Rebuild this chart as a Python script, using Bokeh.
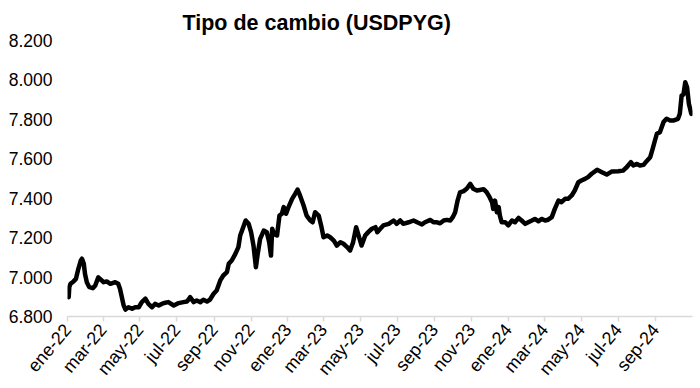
import math
import pandas as pd
from bokeh.plotting import figure
from bokeh.models import Range1d, FixedTicker
from bokeh.embed import file_html
from bokeh.resources import INLINE

title_text = "Tipo de cambio (USDPYG)"

dates = [
    "2022-01-03", "2022-01-04", "2022-01-06", "2022-01-11", "2022-01-15", "2022-01-19",
    "2022-01-23", "2022-01-25", "2022-01-28", "2022-01-30", "2022-02-02", "2022-02-06",
    "2022-02-12", "2022-02-16", "2022-02-21", "2022-02-24", "2022-03-02", "2022-03-07",
    "2022-03-13", "2022-03-21", "2022-03-26", "2022-03-29", "2022-04-01", "2022-04-04",
    "2022-04-07", "2022-04-12", "2022-04-18", "2022-04-23", "2022-04-29", "2022-05-04",
    "2022-05-10", "2022-05-15", "2022-05-21", "2022-05-26", "2022-06-01", "2022-06-06",
    "2022-06-12", "2022-06-17", "2022-06-26", "2022-07-04", "2022-07-12", "2022-07-18",
    "2022-07-23", "2022-07-29", "2022-08-03", "2022-08-09", "2022-08-14", "2022-08-20",
    "2022-08-25", "2022-08-31", "2022-09-05", "2022-09-11", "2022-09-16", "2022-09-22",
    "2022-09-25", "2022-09-30", "2022-10-06", "2022-10-11", "2022-10-14", "2022-10-19",
    "2022-10-23", "2022-10-28", "2022-11-01", "2022-11-05", "2022-11-09", "2022-11-12",
    "2022-11-16", "2022-11-22", "2022-11-27", "2022-12-01", "2022-12-04", "2022-12-06",
    "2022-12-09", "2022-12-14", "2022-12-18", "2022-12-22", "2022-12-25", "2022-12-29",
    "2023-01-02", "2023-01-08", "2023-01-13", "2023-01-17", "2023-01-21", "2023-01-27",
    "2023-02-01", "2023-02-07", "2023-02-11", "2023-02-15", "2023-02-21", "2023-02-25",
    "2023-03-01", "2023-03-07", "2023-03-12", "2023-03-18", "2023-03-23", "2023-03-29",
    "2023-04-03", "2023-04-09", "2023-04-14", "2023-04-19", "2023-04-24", "2023-04-28",
    "2023-05-03", "2023-05-09", "2023-05-14", "2023-05-20", "2023-05-26", "2023-05-29",
    "2023-06-03", "2023-06-08", "2023-06-17", "2023-06-25", "2023-06-30", "2023-07-06",
    "2023-07-11", "2023-07-20", "2023-07-28", "2023-08-03", "2023-08-11", "2023-08-16",
    "2023-08-25", "2023-08-30", "2023-09-05", "2023-09-10", "2023-09-16", "2023-09-21",
    "2023-09-27", "2023-10-01", "2023-10-05", "2023-10-09", "2023-10-13", "2023-10-19",
    "2023-10-24", "2023-10-30", "2023-11-04", "2023-11-10", "2023-11-15", "2023-11-21",
    "2023-11-26", "2023-12-01", "2023-12-05", "2023-12-07", "2023-12-10", "2023-12-13",
    "2023-12-16", "2023-12-18", "2023-12-21", "2023-12-27", "2024-01-01", "2024-01-07",
    "2024-01-12", "2024-01-18", "2024-01-23", "2024-01-29", "2024-02-03", "2024-02-09",
    "2024-02-14", "2024-02-20", "2024-02-25", "2024-03-02", "2024-03-07", "2024-03-13",
    "2024-03-18", "2024-03-24", "2024-03-29", "2024-04-04", "2024-04-09", "2024-04-15",
    "2024-04-20", "2024-04-26", "2024-05-01", "2024-05-07", "2024-05-12", "2024-05-18",
    "2024-05-27", "2024-06-04", "2024-06-12", "2024-06-20", "2024-07-01", "2024-07-09",
    "2024-07-15", "2024-07-22", "2024-07-26", "2024-08-01", "2024-08-06", "2024-08-12",
    "2024-08-17", "2024-08-23", "2024-08-27", "2024-08-30", "2024-09-03", "2024-09-08",
    "2024-09-14", "2024-09-19", "2024-09-25", "2024-09-30", "2024-10-08", "2024-10-11",
    "2024-10-14", "2024-10-17", "2024-10-20", "2024-10-23", "2024-10-26", "2024-10-30",
]

usdpyg = [
    6898, 6950, 6966, 6978, 6991, 7042,
    7084, 7093, 7067, 7016, 6974, 6949,
    6944, 6957, 6999, 6990, 6974, 6978,
    6966, 6974, 6966, 6940, 6898, 6856,
    6835, 6847, 6839, 6847, 6847, 6873,
    6890, 6864, 6847, 6864, 6856, 6864,
    6870, 6873, 6856, 6868, 6873, 6876,
    6898, 6873, 6881, 6873, 6885, 6876,
    6886, 6915, 6932, 6983, 7008, 7025,
    7067, 7084, 7118, 7152, 7211, 7253,
    7287, 7270, 7228, 7160, 7050, 7118,
    7194, 7236, 7228, 7177, 7109, 7245,
    7219, 7211, 7312, 7321, 7355, 7321,
    7355, 7397, 7422, 7444, 7414, 7363,
    7312, 7287, 7278, 7329, 7312, 7262,
    7202, 7211, 7202, 7185, 7160, 7177,
    7169, 7152, 7135, 7177, 7253, 7211,
    7160, 7211, 7228, 7245, 7253, 7228,
    7245, 7262, 7270, 7287, 7270, 7287,
    7270, 7278, 7287, 7278, 7267, 7278,
    7290, 7278, 7278, 7273, 7287, 7290,
    7287, 7304, 7329, 7388, 7430, 7436,
    7448, 7473, 7448, 7439, 7442, 7446,
    7431, 7405, 7380, 7346, 7388, 7329,
    7355, 7312, 7278, 7278, 7262, 7287,
    7278, 7300, 7287, 7270, 7278, 7287,
    7295, 7283, 7295, 7287, 7291, 7304,
    7346, 7388, 7380, 7397, 7397, 7414,
    7439, 7481, 7490, 7498, 7507, 7524,
    7544, 7532, 7520, 7535, 7537, 7540,
    7557, 7583, 7566, 7574, 7566, 7569,
    7588, 7608, 7650, 7684, 7727, 7735,
    7786, 7803, 7794, 7794, 7803, 7828,
    7921, 7926, 7988, 7963, 7879, 7828,
]

x_tick_dates = [
    "2022-01-01", "2022-03-01", "2022-05-01", "2022-07-01", "2022-09-01", "2022-11-01",
    "2023-01-01", "2023-03-01", "2023-05-01", "2023-07-01", "2023-09-01", "2023-11-01",
    "2024-01-01", "2024-03-01", "2024-05-01", "2024-07-01", "2024-09-01",
]
x_tick_labels = [
    "ene-22", "mar-22", "may-22", "jul-22", "sep-22", "nov-22",
    "ene-23", "mar-23", "may-23", "jul-23", "sep-23", "nov-23",
    "ene-24", "mar-24", "may-24", "jul-24", "sep-24",
]
y_ticks = [6800, 7000, 7200, 7400, 7600, 7800, 8000, 8200]
y_tick_labels = ["6.800", "7.000", "7.200", "7.400", "7.600", "7.800", "8.000", "8.200"]

x_start = "2022-01-01"
x_end = "2024-11-01"

FONT = "Liberation Sans"

W, H = 700, 388
p = figure(
    width=W, height=H,
    x_axis_type="datetime",
    x_range=Range1d(pd.Timestamp(x_start), pd.Timestamp(x_end)),
    y_range=Range1d(6800, 8200),
    output_backend="svg", toolbar_location=None,
    min_border_left=67, min_border_right=W - 692, min_border_top=40,
    min_border_bottom=H - 316,
)
p.outline_line_color = None
p.grid.visible = False
p.background_fill_color = "white"
p.border_fill_color = "white"

p.title.text = title_text
p.title.text_font = FONT
p.title.text_font_size = "21.5px"
p.title.text_font_style = "bold"
p.title.text_color = "#000000"
p.title.align = "left"
p.title.offset = 115
p.title.standoff = 12

x_ms = [int(pd.Timestamp(d).value // 10**6) for d in x_tick_dates]
p.xaxis.ticker = FixedTicker(ticks=x_ms)
p.xaxis.major_label_overrides = {m: lab for m, lab in zip(x_ms, x_tick_labels)}
p.xaxis.major_label_orientation = math.radians(50)
p.xaxis.major_label_text_font = FONT
p.xaxis.major_label_text_font_size = "18px"
p.xaxis.major_label_text_color = "#000000"
p.xaxis.axis_line_color = "#d9d9d9"
p.xaxis.axis_line_width = 1.5
p.xaxis.major_tick_line_color = "#d9d9d9"
p.xaxis.major_tick_line_width = 1.5
p.xaxis.major_tick_in = 0
p.xaxis.major_tick_out = 5
p.xaxis.minor_tick_line_color = None
p.xaxis.major_label_standoff = 5

p.yaxis.ticker = FixedTicker(ticks=y_ticks)
p.yaxis.major_label_overrides = {t: lab for t, lab in zip(y_ticks, y_tick_labels)}
p.yaxis.major_label_text_font = FONT
p.yaxis.major_label_text_font_size = "17.5px"
p.yaxis.major_label_text_color = "#000000"
p.yaxis.axis_line_color = None
p.yaxis.major_tick_line_color = None
p.yaxis.minor_tick_line_color = None
p.yaxis.major_tick_in = 0
p.yaxis.major_tick_out = 0
p.yaxis.major_label_standoff = 15

p.line(pd.to_datetime(dates), usdpyg, line_color="#000000", line_width=4.5,
       line_join="round", line_cap="round")

open("out.html", "w").write(file_html(p, INLINE))
